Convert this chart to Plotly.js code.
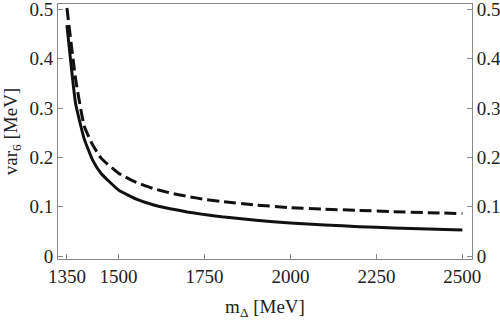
<!DOCTYPE html>
<html><head><meta charset="utf-8">
<script src="https://cdn.plot.ly/plotly-3.0.1.min.js"></script>
<style>html,body{margin:0;padding:0;background:#fff}#c{width:500px;height:320px}</style>
</head><body><div id="c"></div>
<script>
const mDelta = [1350,1375,1400,1425,1450,1500,1550,1600,1650,1700,1750,1800,1900,2000,2100,2200,2300,2400,2500];
const solidVals = [0.468,0.31,0.238,0.194,0.167,0.134,0.116,0.104,0.096,0.0895,0.084,0.0795,0.0725,0.067,0.063,0.0595,0.057,0.055,0.053];
const dashedVals = [0.503,0.36,0.264,0.225,0.198,0.168,0.150,0.137,0.128,0.121,0.115,0.1105,0.1035,0.098,0.095,0.0925,0.090,0.088,0.086];
const xTicks = [1350,1500,1750,2000,2250,2500];
const yTicks = [0,0.1,0.2,0.3,0.4,0.5];
const yTickText = ["0","0.1","0.2","0.3","0.4","0.5"];

const font = {family:"Liberation Serif", size:19, color:"#222", weight:"normal"};
const axisCol = "#888";
const yRange = [-0.006, 0.511];

const traces = [
  {x:mDelta, y:solidVals, mode:"lines", line:{color:"#111", width:3, shape:"spline", smoothing:0.4}, showlegend:false},
  {x:mDelta, y:dashedVals, mode:"lines", line:{color:"#111", width:3, dash:"12px,5px", shape:"spline", smoothing:0.4}, showlegend:false}
];

const yCommon = {range:yRange, tickvals:yTicks, ticktext:yTickText, ticks:"inside", ticklen:5, tickcolor:axisCol,
  tickfont:font, ticklabeloverflow:"allow", showline:true, linecolor:axisCol, linewidth:1, showgrid:false, zeroline:false};

const layout = {
  width:500, height:320,
  margin:{l:58, r:28, t:4, b:61},
  paper_bgcolor:"#fff", plot_bgcolor:"#fff",
  font:font,
  xaxis:{range:[1324,2528], tickvals:xTicks, ticktext:xTicks.map(String), ticks:"inside", ticklen:5, tickcolor:axisCol,
    tickfont:font, ticklabeloverflow:"allow",
    showline:true, linecolor:axisCol, linewidth:1, mirror:true, showgrid:false, zeroline:false,
    title:{text:"m<sub>Δ</sub> [MeV]", font:font, standoff:14}},
  yaxis:Object.assign({}, yCommon, {title:{text:"var<sub>6</sub> [MeV]", font:font, standoff:6}}),
  yaxis2:Object.assign({}, yCommon, {overlaying:"y", side:"right", anchor:"x"})
};
traces.push({x:[mDelta[0]], y:[solidVals[0]], yaxis:"y2", mode:"markers", marker:{opacity:0}, hoverinfo:"skip", showlegend:false});
Plotly.newPlot("c", traces, layout, {staticPlot:true, displayModeBar:false});
</script></body></html>
